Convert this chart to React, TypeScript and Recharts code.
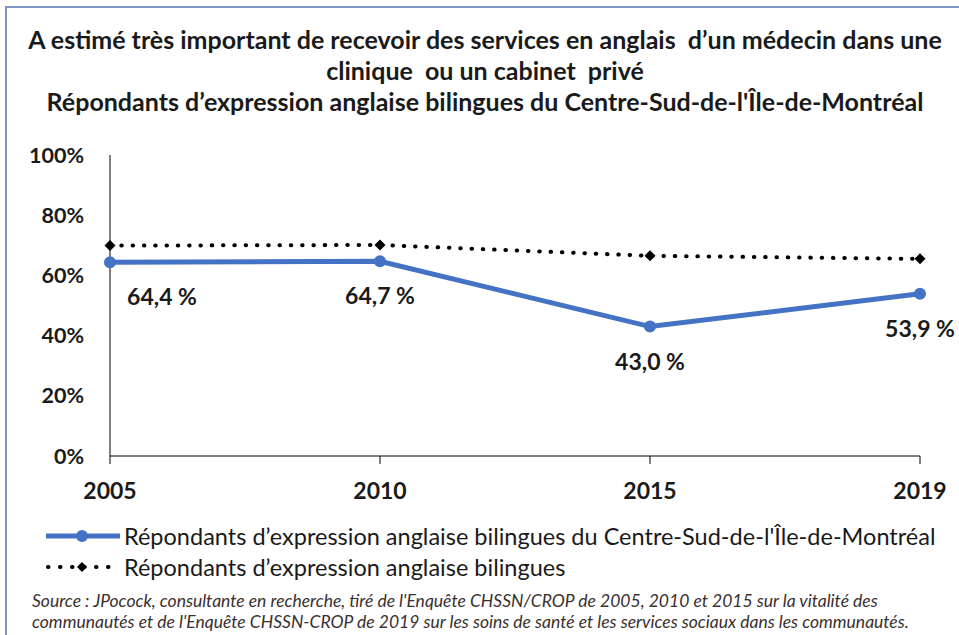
import { LineChart, Line, XAxis, YAxis, Legend, LabelList } from 'recharts'

const years = ['2005', '2010', '2015', '2019']
const centreSud = [64.4, 64.7, 43.0, 53.9]
const bilingues = [69.9, 70.1, 66.5, 65.5]
const yTicks = [0, 20, 40, 60, 80, 100]

const seriesNames = [
  "Répondants d’expression anglaise bilingues du Centre-Sud-de-l'Île-de-Montréal",
  'Répondants d’expression anglaise bilingues',
]

const titleLines = [
  'A estimé très important de recevoir des services en anglais  d’un médecin dans une',
  'clinique  ou un cabinet  privé',
  "Répondants d’expression anglaise bilingues du Centre-Sud-de-l'Île-de-Montréal",
]

const sourceLines = [
  "Source : JPocock, consultante en recherche, tiré de l'Enquête CHSSN/CROP de 2005, 2010 et 2015 sur la vitalité des",
  "communautés et de l'Enquête CHSSN-CROP de 2019 sur les soins de santé et les services sociaux dans les communautés.",
]

const data = years.map((year, i) => ({
  year,
  centreSud: centreSud[i],
  bilingues: bilingues[i],
}))

const BLUE = '#4472C4'
const FONT = "Lato, 'Open Sans', sans-serif"

const pct = (v: number) => `${v.toFixed(1).replace('.', ',')} %`

function ValueLabel(props: any) {
  const { x, y, value, index } = props
  const dx = index === 0 ? 52 : 0
  return (
    <text
      x={x + dx}
      y={y + 34}
      textAnchor="middle"
      dominantBaseline="central"
      fontSize={23}
      fontWeight={700}
      fill="#1a1a1a"
      fontFamily={FONT}
    >
      {pct(value)}
    </text>
  )
}

function Diamond(props: any) {
  const { cx, cy } = props
  if (cx == null || cy == null) return null
  return <path d={`M${cx - 5.5},${cy} L${cx},${cy - 5.5} L${cx + 5.5},${cy} L${cx},${cy + 5.5} Z`} fill="#000" />
}

function LegendContent() {
  return (
    <div style={{ fontFamily: FONT, fontSize: 23.5, color: '#1a1a1a' }}>
      <div style={{ display: 'flex', alignItems: 'center', height: 31 }}>
        <svg width={84} height={20}>
          <line x1={6} y1={10} x2={80} y2={10} stroke={BLUE} strokeWidth={5} />
          <circle cx={42} cy={10} r={6} fill={BLUE} />
        </svg>
        <span>{seriesNames[0]}</span>
      </div>
      <div style={{ display: 'flex', alignItems: 'center', height: 31 }}>
        <svg width={84} height={20}>
          <line
            x1={8}
            y1={10}
            x2={76}
            y2={10}
            stroke="#000"
            strokeWidth={4}
            strokeLinecap="round"
            strokeDasharray="0.5 11.5"
          />
          <path d="M37,10 L42,5 L47,10 L42,15 Z" fill="#000" />
        </svg>
        <span>{seriesNames[1]}</span>
      </div>
    </div>
  )
}

export default function App() {
  return (
    <div
      style={{
        position: 'absolute',
        left: 0,
        top: 0,
        width: 959,
        height: 635,
        overflow: 'hidden',
        background: '#fff',
        fontFamily: FONT,
      }}
    >
      <div
        style={{
          position: 'absolute',
          left: 5,
          top: 6,
          width: 1000,
          height: 700,
          borderTop: '2px solid #7f95c4',
          borderLeft: '2px solid #7f95c4',
        }}
      />
      <div
        style={{
          position: 'absolute',
          left: 0,
          top: 24,
          width: 970,
          textAlign: 'center',
          fontWeight: 700,
          fontSize: 25,
          lineHeight: '31px',
          color: '#1a1a1a',
          whiteSpace: 'pre',
        }}
      >
        {titleLines.map((t) => (
          <div key={t}>{t}</div>
        ))}
      </div>
      <LineChart width={959} height={635} data={data} margin={{ top: 155, right: 39, bottom: 119, left: 30 }}>
        <XAxis
          dataKey="year"
          height={60}
          stroke="#000"
          tickSize={8}
          tickMargin={19}
          tick={{ fill: '#1a1a1a', fontSize: 23, fontWeight: 700, fontFamily: FONT }}
          padding={{ left: 0, right: 0 }}
        />
        <YAxis
          width={80}
          domain={[0, 100]}
          ticks={yTicks}
          tickFormatter={(v: number) => `${v}%`}
          stroke="#000"
          tickLine={false}
          tickSize={0}
          tickMargin={26}
          tick={{ fill: '#1a1a1a', fontSize: 21.5, fontWeight: 700, fontFamily: FONT }}
        />
        <Legend
          layout="vertical"
          align="center"
          verticalAlign="middle"
          wrapperStyle={{ left: 40, top: 520, width: 920 }}
          content={<LegendContent />}
        />
        <Line
          dataKey="bilingues"
          name={seriesNames[1]}
          stroke="#000"
          strokeWidth={4}
          strokeLinecap="round"
          strokeDasharray="0.5 10.8"
          dot={<Diamond />}
          activeDot={false}
          isAnimationActive={false}
        />
        <Line
          dataKey="centreSud"
          name={seriesNames[0]}
          stroke={BLUE}
          strokeWidth={5}
          dot={{ r: 6, fill: BLUE, stroke: BLUE, strokeWidth: 0 }}
          activeDot={false}
          isAnimationActive={false}
        >
          <LabelList dataKey="centreSud" content={<ValueLabel />} />
        </Line>
      </LineChart>
      <div
        style={{
          position: 'absolute',
          left: 32,
          top: 590,
          fontStyle: 'italic',
          fontSize: 17.5,
          lineHeight: '21px',
          color: '#3a3030',
          whiteSpace: 'pre',
        }}
      >
        {sourceLines.map((t) => (
          <div key={t}>{t}</div>
        ))}
      </div>
    </div>
  )
}
